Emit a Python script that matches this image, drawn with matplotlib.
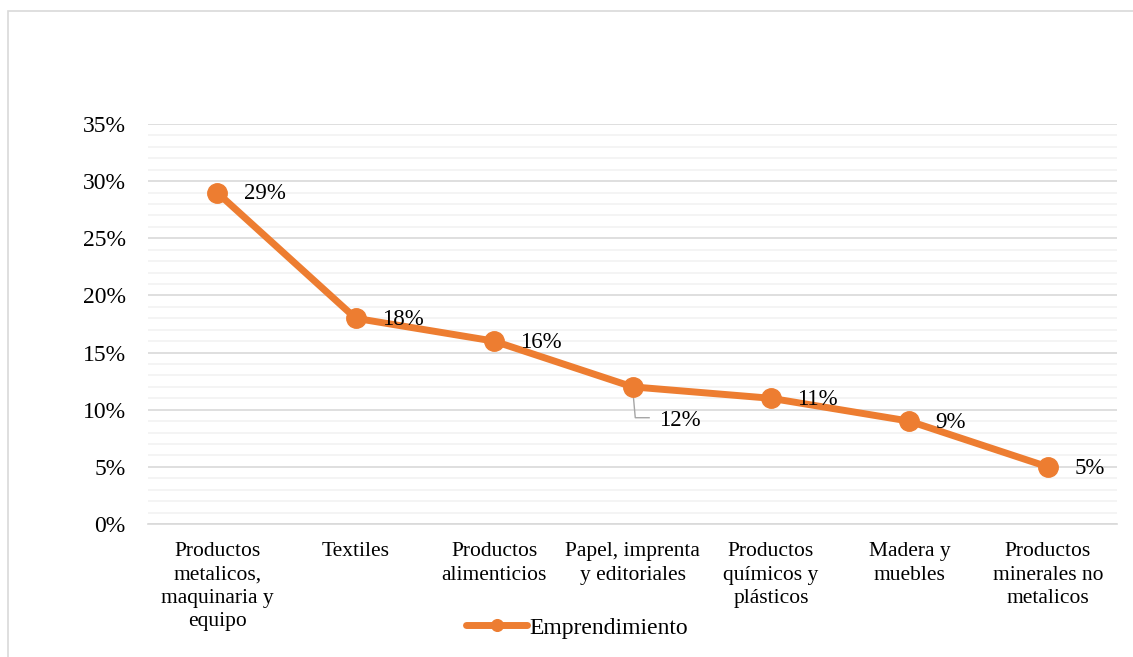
import numpy as np
import matplotlib.pyplot as plt
from matplotlib.ticker import MultipleLocator, PercentFormatter
from matplotlib.patches import Rectangle

plt.rcParams['font.family'] = ['Liberation Serif', 'DejaVu Serif']

categories = ["Productos\nmetalicos,\nmaquinaria y\nequipo", "Textiles",
              "Productos\nalimenticios", "Papel, imprenta\ny editoriales",
              "Productos\nquímicos y\nplásticos", "Madera y\nmuebles",
              "Productos\nminerales no\nmetalicos"]
values = [29, 18, 16, 12, 11, 9, 5]
labels = ["29%", "18%", "16%", "12%", "11%", "9%", "5%"]
series_name = "Emprendimiento"

orange = "#ED7D31"

fig = plt.figure(figsize=(11.33, 6.57), dpi=100)
fig.patches.append(Rectangle((8 / 1133, -0.01), 1.0, 1 - 11 / 657 + 0.01,
                             transform=fig.transFigure, fill=False,
                             edgecolor="#D9D9D9", linewidth=1.2))
ax = fig.add_axes([148 / 1133, 1 - 524 / 657, 969 / 1133, 400 / 657])

x = np.arange(len(categories))
ax.plot(x, values, color=orange, linewidth=5, marker="o", markersize=14,
        solid_capstyle="round", label=series_name, zorder=3)

for i, (v, lab) in enumerate(zip(values, labels)):
    if lab == "12%":
        ax.annotate(lab, xy=(i, v), xytext=(19, -24), textcoords="offset points",
                    fontsize=16.5, va="center", ha="left")
        ax.plot([i, i + 0.02, i + 0.12], [v, v - 2.7, v - 2.7], color="#A6A6A6",
                linewidth=1, zorder=2)
    else:
        ax.annotate(lab, xy=(i, v), xytext=(19, -1), textcoords="offset points",
                    fontsize=16.5, va="center", ha="left")

ax.set_xlim(-0.5, len(categories) - 0.5)
ax.set_ylim(0, 35)
ax.yaxis.set_major_locator(MultipleLocator(5))
ax.yaxis.set_minor_locator(MultipleLocator(1))
ax.yaxis.set_major_formatter(PercentFormatter(decimals=0))
ax.grid(which="major", axis="y", color="#D9D9D9", linewidth=1.2)
ax.grid(which="minor", axis="y", color="#F2F2F2", linewidth=1.2)
ax.set_axisbelow(True)
ax.set_xticks(x)
ax.set_xticklabels(categories, fontsize=15.5, linespacing=1.32, va="top")
ax.tick_params(axis="y", labelsize=17, length=0, pad=16)
ax.tick_params(axis="x", length=0, pad=13)
ax.tick_params(which="minor", length=0)
for s in ["top", "right", "left"]:
    ax.spines[s].set_visible(False)
ax.spines["bottom"].set_color("#D9D9D9")
ax.spines["bottom"].set_linewidth(1.2)

fig.legend(loc="center", bbox_to_anchor=(577 / 1133, 1 - 628 / 657), frameon=False,
           fontsize=17, handlelength=2.6, handletextpad=0.1, markerscale=0.6)

fig.savefig("out.png", dpi=100)
